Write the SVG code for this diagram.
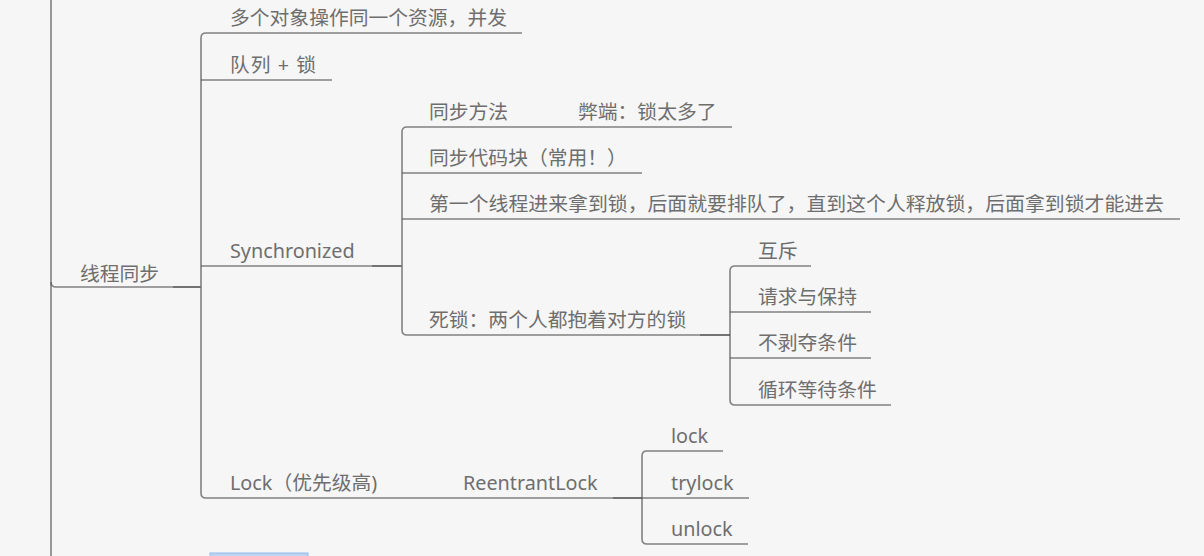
<svg xmlns="http://www.w3.org/2000/svg" width="1204" height="556" viewBox="0 0 1204 556">
<style>
text{font-family:"Noto Sans","Noto Sans CJK SC",sans-serif;font-size:19.8px;fill:#6e6e6e}
.ln{fill:none;stroke:#555;stroke-opacity:0.72;stroke-width:1.6}
</style>
<rect x="0" y="0" width="1204" height="556" fill="#f6f6f6"/>
<g id="connectors">
<path class="ln" d="M51,0 V556"/>
<path class="ln" d="M173,287 H201"/>
<path class="ln" d="M206,33 Q201,33 201,38 V493 Q201,498 206,498"/>
<path class="ln" d="M372,266 H402"/>
<path class="ln" d="M407,127 Q402,127 402,132 V330 Q402,335 407,335"/>
<path class="ln" d="M700,335 H730"/>
<path class="ln" d="M735,266 Q730,266 730,271 V400 Q730,405 735,405"/>
<path class="ln" d="M613,498 H642"/>
<path class="ln" d="M647,451 Q642,451 642,456 V539 Q642,544 647,544"/>
</g>
<g id="root"><path class="ln" d="M51,282 Q51,287 56,287 H200"/><text x="80" y="281">线程同步</text></g>
<g id="n-concurrency"><path class="ln" d="M206,33 H522"/><text x="230" y="25">多个对象操作同一个资源，并发</text></g>
<g id="n-queue"><path class="ln" d="M201,80 H332"/><text x="230" y="72" textLength="86" lengthAdjust="spacing">队列 + 锁</text></g>
<g id="n-sync"><path class="ln" d="M201,266 H401"/><text x="230" y="258">Synchronized</text></g>
<g id="n-lock"><path class="ln" d="M206,498 H430"/><text x="230" y="490">Lock（优先级高)</text></g>
<g id="n-reentrant"><path class="ln" d="M430,498 H642"/><text x="463" y="490">ReentrantLock</text></g>
<g id="n-method"><path class="ln" d="M407,127 H540"/><text x="429" y="119">同步方法</text></g>
<g id="n-drawback"><path class="ln" d="M540,127 H732"/><text x="578" y="119">弊端：锁太多了</text></g>
<g id="n-block"><path class="ln" d="M402,173 H642"/><text x="429" y="165">同步代码块（常用！）</text></g>
<g id="n-first"><path class="ln" d="M402,219 H1180"/><text x="429" y="211" textLength="735" lengthAdjust="spacingAndGlyphs">第一个线程进来拿到锁，后面就要排队了，直到这个人释放锁，后面拿到锁才能进去</text></g>
<g id="n-deadlock"><path class="ln" d="M407,335 H730"/><text x="429" y="327">死锁：两个人都抱着对方的锁</text></g>
<g id="n-mutex"><path class="ln" d="M735,266 H811"/><text x="758" y="258">互斥</text></g>
<g id="n-hold"><path class="ln" d="M730,312 H871"/><text x="758" y="304">请求与保持</text></g>
<g id="n-nopre"><path class="ln" d="M730,358 H871"/><text x="758" y="350">不剥夺条件</text></g>
<g id="n-circular"><path class="ln" d="M735,405 H891"/><text x="758" y="397">循环等待条件</text></g>
<g id="n-lk"><path class="ln" d="M647,451 H723"/><text x="671" y="443">lock</text></g>
<g id="n-trylock"><path class="ln" d="M642,498 H749"/><text x="671" y="490">trylock</text></g>
<g id="n-unlock"><path class="ln" d="M647,544 H748"/><text x="671" y="536">unlock</text></g>
<rect x="210" y="553" width="98" height="10" fill="#bcd5f4" stroke="#93b8e8" stroke-width="1"/>
</svg>
